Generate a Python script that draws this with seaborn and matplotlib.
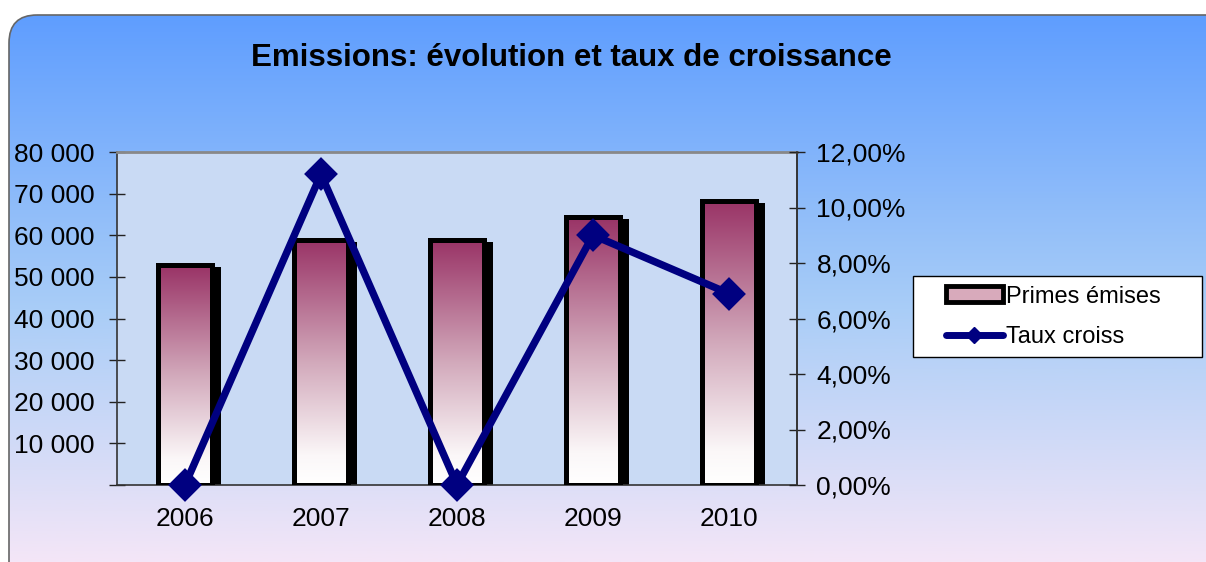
import numpy as np
import pandas as pd
import matplotlib
matplotlib.use("Agg")
import matplotlib.pyplot as plt
import seaborn as sns
from matplotlib.patches import FancyBboxPatch, Rectangle, Patch
from matplotlib.lines import Line2D
from matplotlib import transforms as mtransforms
from matplotlib.colors import LinearSegmentedColormap, to_rgb

# ---- data ----
years = ["2006", "2007", "2008", "2009", "2010"]
primes = [52800, 58900, 58900, 64300, 68300]
taux = [0.0, 11.2, 0.0, 9.0, 6.9]
left_ticks = [0, 10000, 20000, 30000, 40000, 50000, 60000, 70000, 80000]
left_labels = ["", "10 000", "20 000", "30 000", "40 000", "50 000", "60 000", "70 000", "80 000"]
right_ticks = [0, 2, 4, 6, 8, 10, 12]
right_labels = ["0,00%", "2,00%", "4,00%", "6,00%", "8,00%", "10,00%", "12,00%"]
title = "Emissions: évolution et taux de croissance"
series_names = ["Primes émises", "Taux croiss"]

sns.set_style("white")
plt.rcParams["font.family"] = ["Liberation Sans", "DejaVu Sans"]
plt.rcParams.update({"text.color": "black", "xtick.color": "black",
                     "ytick.color": "black", "axes.labelcolor": "black"})

W, H = 1206, 562
fig = plt.figure(figsize=(W / 100, H / 100), dpi=100)
fig.patch.set_facecolor("white")

# ---- background rounded gradient panel ----
bg = fig.add_axes([0, 0, 1, 1], zorder=-10)
bg.set_xlim(0, W)
bg.set_ylim(H, 0)
bg.axis("off")
top_c = np.array(to_rgb("#5b9bff"))
mid_c = np.array(to_rgb("#a9cdf7"))
bot_c = np.array(to_rgb("#f4e6f7"))
t = np.linspace(0, 1, 300)[:, None]
grad = np.where(t < 0.55, top_c * (1 - t / 0.55) + mid_c * (t / 0.55),
                mid_c * (1 - (t - 0.55) / 0.45) + bot_c * ((t - 0.55) / 0.45))
grad = grad[:, None, :]
panel = FancyBboxPatch((9, 15), W + 20, H + 20,
                       boxstyle="round,pad=0,rounding_size=28",
                       facecolor="none", edgecolor="#666666", lw=1.2, zorder=2)
bg.add_patch(panel)
im = bg.imshow(grad, extent=[0, W, H, 0], aspect="auto", zorder=1)
im.set_clip_path(panel)

# legend frame (decoration)
bg.add_patch(Rectangle((913, 276), 289, 81, facecolor="white",
                       edgecolor="black", lw=1, zorder=3))

# ---- main axes ----
L, R, T, B = 117, 797, 152, 485
ax = fig.add_axes([L / W, 1 - B / H, (R - L) / W, (B - T) / H])
ax.set_facecolor("#c9daf4")

df = pd.DataFrame({"year": years, "primes": primes, "taux": taux})
sns.barplot(data=df, x="year", y="primes", ax=ax, width=0.4,
            color="#993366", edgecolor="black", linewidth=3.6, zorder=3)

cmap = LinearSegmentedColormap.from_list(
    "bar", [(0, "#ffffff"), (0.12, "#fbf7f8"), (0.5, "#d2a9bb"), (1, "#993366")])
g = np.linspace(0, 1, 256)[:, None]
for p in list(ax.patches):
    x0, y0 = p.get_x(), p.get_y()
    w, h = p.get_width(), p.get_height()
    shadow_tr = mtransforms.offset_copy(ax.transData, fig=fig, x=6, y=-4, units="dots")
    sh = Rectangle((x0, y0), w, h, transform=shadow_tr, facecolor="black",
                   edgecolor="black", lw=3.6, zorder=1)
    ax.add_patch(sh)
    gim = ax.imshow(g, cmap=cmap, extent=[x0, x0 + w, y0, y0 + h],
                    origin="lower", aspect="auto", zorder=2)
    gim.set_clip_path(p)
    p.set_facecolor("none")

ax.set_xlim(-0.5, len(years) - 0.5)
ax.set_ylim(0, 80000)
ax.set_xticks(np.arange(len(years) + 1) - 0.5)
ax.set_xticklabels([])
ax.set_xticks(np.arange(len(years)), minor=True)
ax.set_xticklabels(years, minor=True, fontsize=19)
ax.tick_params(axis="x", which="minor", length=0, pad=16)
ax.tick_params(axis="x", which="major", direction="inout", length=12, width=1, color="#222222")
ax.set_yticks(left_ticks)
ax.set_yticklabels(left_labels, fontsize=19)
ax.tick_params(axis="y", direction="inout", length=12, width=1, color="#222222", pad=10)
ax.set_xlabel("")
ax.set_ylabel("")
ax.spines["top"].set_color("#888888")
ax.spines["top"].set_linewidth(2)
for s in ["left", "bottom", "right"]:
    ax.spines[s].set_color("#333333")
    ax.spines[s].set_linewidth(1.2)

# ---- growth line on secondary axis ----
ax2 = ax.twinx()
sns.pointplot(data=df, x="year", y="taux", ax=ax2, color="#000080",
              markers="D", linestyles="-", errorbar=None,
              markersize=13, linewidth=5.3)
for ln in ax2.lines:
    ln.set_clip_on(False)
    ln.set_zorder(5)
ax2.set_xlim(-0.5, len(years) - 0.5)
ax2.set_ylim(0, 12)
ax2.set_yticks(right_ticks)
ax2.set_yticklabels(right_labels, fontsize=19)
ax2.tick_params(axis="y", direction="inout", length=12, width=1, color="#222222", pad=8)
ax2.set_ylabel("")
ax2.set_xlabel("")
for s in ["top", "left", "bottom"]:
    ax2.spines[s].set_visible(False)
ax2.spines["right"].set_color("#333333")
ax2.spines["right"].set_linewidth(1.2)

# ---- title ----
fig.text(571 / W, 1 - 58 / H, title, ha="center", va="center",
         fontsize=22.5, fontweight="bold", color="black")

# ---- legend ----
handles = [Patch(facecolor="#d8aabb", edgecolor="black", linewidth=3.5),
           Line2D([0], [0], color="#000080", lw=5, marker="D", markersize=8)]
leg = fig.legend(handles, series_names, loc="center left",
                 bbox_to_anchor=(946 / W, 1 - 317 / H), fontsize=17,
                 frameon=False, borderpad=0, borderaxespad=0,
                 handlelength=2.4, handleheight=0.65, handletextpad=0.15,
                 labelspacing=0.8)
for txt in leg.get_texts():
    txt.set_color("black")

fig.savefig("out.png", dpi=100)
